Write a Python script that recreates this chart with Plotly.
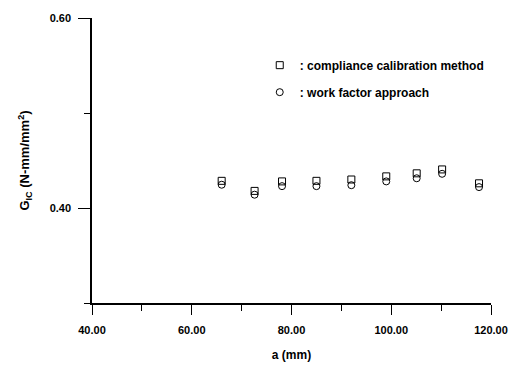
import plotly.graph_objects as go

a_mm = [66.0, 72.6, 78.1, 85.0, 92.0, 99.0, 105.1, 110.2, 117.6]
gic_compliance = [0.4286, 0.4180, 0.4280, 0.4286, 0.4300, 0.4333, 0.4365, 0.4406, 0.4260]
gic_workfactor = [0.4245, 0.4140, 0.4230, 0.4230, 0.4240, 0.4280, 0.4313, 0.4360, 0.4220]

x_ticks = [40, 60, 80, 100, 120]
x_ticklabels = ["40.00", "60.00", "80.00", "100.00", "120.00"]
y_ticks = [0.40, 0.60]
y_ticklabels = ["0.40", "0.60"]

font_family = "Arial, 'Liberation Sans', Helvetica, sans-serif"

fig = go.Figure()
fig.add_trace(go.Scatter(
    x=a_mm, y=gic_compliance, mode="markers",
    name=": compliance calibration method", legendgroup="a",
    marker=dict(symbol="square-open", size=7, color="black", line=dict(width=1)),
))
fig.add_trace(go.Scatter(
    x=a_mm, y=gic_workfactor, mode="markers",
    name=": work factor approach", legendgroup="b",
    marker=dict(symbol="circle-open", size=7, color="black", line=dict(width=1)),
))

pw = 520 - 92 - 26
ph = 372 - 15 - 69
fig.update_layout(
    width=520, height=372,
    margin=dict(l=92, r=26, t=15, b=69),
    paper_bgcolor="white", plot_bgcolor="white",
    font=dict(family=font_family, size=11, color="black", weight="bold"),
    showlegend=True,
    legend=dict(
        x=(261 - 92) / pw, xanchor="left", xref="paper",
        y=1 - (48 - 15) / ph, yanchor="top", yref="paper",
        font=dict(size=12, weight="bold"),
        bgcolor="rgba(0,0,0,0)", tracegroupgap=8,
        itemwidth=30,
    ),
)

fig.update_xaxes(
    range=[40, 120], showgrid=False, zeroline=False,
    showline=True, linecolor="black", linewidth=1.5,
    tickmode="array", tickvals=x_ticks, ticktext=x_ticklabels,
    ticks="outside", ticklen=10, tickwidth=1, tickcolor="black",
    ticklabelstandoff=6,
    minor=dict(dtick=10, tick0=40, ticks="outside", ticklen=6, tickwidth=1, tickcolor="black"),
    tickfont=dict(size=11, weight="bold"),
    title=dict(text="a (mm)", font=dict(size=12, weight="bold"), standoff=16),
)
fig.update_yaxes(
    range=[0.30, 0.60], showgrid=False, zeroline=False,
    showline=True, linecolor="black", linewidth=1.5,
    tickmode="array", tickvals=y_ticks, ticktext=y_ticklabels,
    ticks="outside", ticklen=12, tickwidth=1, tickcolor="black",
    ticklabelstandoff=5,
    minor=dict(dtick=0.1, tick0=0.3, ticks="outside", ticklen=6, tickwidth=1, tickcolor="black"),
    tickfont=dict(size=11, weight="bold"),
    title=dict(text="G<sub>IC</sub> (N-mm/mm<sup>2</sup>)", font=dict(size=13, weight="bold"), standoff=17),
)

fig.write_html("out.html")
